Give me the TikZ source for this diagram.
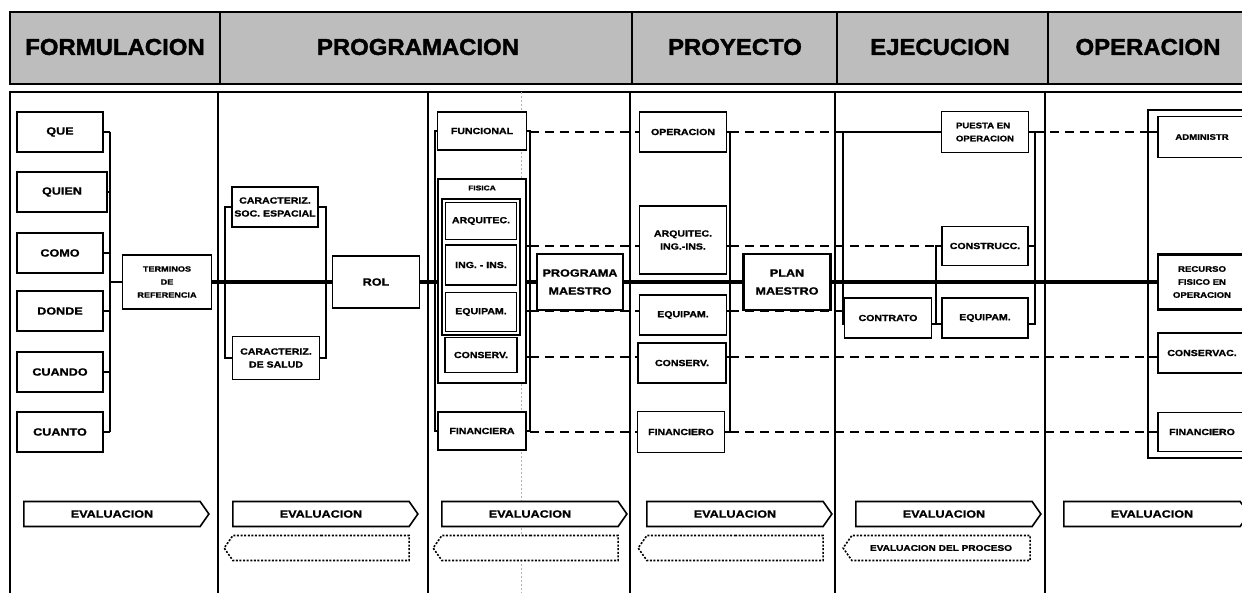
\documentclass[tikz,border=0pt]{standalone}
\usepackage{fontspec}
\setmainfont{Liberation Sans}
\newfontfamily\wide[FakeStretch=1.2,FakeBold=1.3]{Liberation Sans}
\newfontfamily\heavy[FakeStretch=1.04,FakeBold=1.6]{Liberation Sans}
\newcommand\fsz[2]{\wide\bfseries\fontsize{#1}{#2}\selectfont}
\usetikzlibrary{positioning,fit,backgrounds,shapes.symbols}

\begin{document}
\begin{tikzpicture}[x=1pt, y=-1pt,
	bx/.style={draw, line width=1.6pt, fill=white, align=center, inner sep=1pt, minimum width=87, minimum height=40, font=\fsz{8.8}{13}},
	big/.style={bx, line width=2.6pt, minimum height=56, font=\fsz{10.5}{18}},
	ask/.style={bx, minimum width=86, font=\fsz{10.5}{12}},
	tick/.style={line width=1.8pt},
	spine/.style={line width=4.5pt},
	link/.style={line width=1.6pt, dash pattern=on 9pt off 6pt},
	evalf/.style={draw, line width=1.6pt, fill=white, shape=signal, signal to=east, signal pointer angle=110, minimum width=185, minimum height=25, inner sep=0pt, font=\fsz{10.5}{12}},
	evalb/.style={evalf, signal to=west, line width=1.6pt, dash pattern=on 2pt off 1.6pt, font=\fsz{8.4}{10}},
	col/.style={line width=2.2pt},
	head/.style={font=\heavy\bfseries\fontsize{23}{24}\selectfont}]
	\useasboundingbox (0,0) rectangle (1242,593);
	\clip (0,0) rectangle (1242,593);
	% header band
	\fill[black!26] (10,12) rectangle (1260,84);
	\draw[line width=2.6pt] (10,12) rectangle (1260,84);
	\foreach \x in {220,632,837,1048} \draw[col] (\x,12) -- (\x,84);
	\node[head] (hf) at (115,47) {FORMULACION};
	\node[head] (hp) at (418,47) {PROGRAMACION};
	\node[head] (hy) at (735,47) {PROYECTO};
	\node[head] (he) at (940,47) {EJECUCION};
	\node[head] (ho) at (1148,47) {OPERACION};
	% body frame
	\draw[line width=2.4pt] (1260,92) -- (10,92) -- (10,600);
	\foreach \x in {218,428,630,835,1045} \draw[col] (\x,92) -- (\x,600);
	\draw[gray!60, line width=.4pt, dash pattern=on 2pt off 2pt] (521,92) -- (521,600);
	% levels and brackets
	\coordinate (l1) at (0,132);
	\coordinate (l2) at (0,246);
	\coordinate (l3) at (0,311);
	\coordinate (l4) at (0,357);
	\coordinate (l5) at (0,432);
	\coordinate (l6) at (0,324);
	\coordinate (k1) at (110,282);
	\coordinate (k2l) at (225,282);
	\coordinate (k2r) at (326,282);
	\coordinate (k3l) at (435,282);
	\coordinate (k3r) at (530,282);
	\coordinate (k4r) at (730,282);
	\coordinate (k5l) at (843,282);
	\coordinate (k5m) at (936,282);
	\coordinate (k5r) at (1035,282);
	% formulacion
	\node[ask] (que) at (60,132) {QUE};
	\node[ask, minimum width=90] (quien) at (62,192) {QUIEN};
	\node[ask] (como) at (60,253) {COMO};
	\node[ask] (donde) at (60,311) {DONDE};
	\node[ask] (cuando) at (60,372) {CUANDO};
	\node[ask] (cuanto) at (60,432) {CUANTO};
	\node[bx, minimum width=89, minimum height=54, font=\fsz{7.6}{13}] (ter) at (167,282) {TERMINOS\\DE\\REFERENCIA};
	% programacion
	\node[bx, minimum width=86] (soc) at (275,207) {CARACTERIZ.\\SOC. ESPACIAL};
	\node[bx, minimum height=43] (sal) at (276,358) {CARACTERIZ.\\DE SALUD};
	\node[bx, minimum height=52, font=\fsz{10.5}{12}] (rol) at (376,282) {ROL};
	\node[bx, minimum width=89, minimum height=38] (fun) at (482,131) {FUNCIONAL};
	\node[bx, minimum width=88, minimum height=204] (fis) at (482,281) {};
	\node[font=\fsz{7}{7}] (fisl) at (482,188) {FISICA};
	\node[bx, minimum width=71, minimum height=37] (arq) at (481,221) {ARQUITEC.};
	\node[bx, minimum width=71] (ing) at (481,265) {ING. - INS.};
	\node[bx, minimum width=71, minimum height=39] (eq3) at (481,312) {EQUIPAM.};
	\node[draw, line width=2.4pt, inner sep=2.5pt, fit=(arq)(ing)(eq3)] (fisin) {};
	\node[bx, minimum width=72, minimum height=35] (con3) at (481,355) {CONSERV.};
	\node[bx, minimum width=88, minimum height=38] (fin3) at (482,431) {FINANCIERA};
	\node[big, minimum width=86] (prog) at (580,282) {PROGRAMA\\MAESTRO};
	% proyecto
	\node[bx] (op4) at (683,132) {OPERACION};
	\node[bx, minimum height=68] (arq4) at (683,240) {ARQUITEC.\\ING.-INS.};
	\node[bx] (eq4) at (683,315) {EQUIPAM.};
	\node[bx, minimum width=88] (con4) at (682,363) {CONSERV.};
	\node[bx, minimum height=41] (fin4) at (681,432) {FINANCIERO};
	\node[big] (plan) at (787,282) {PLAN\\MAESTRO};
	% ejecucion
	\node[bx, minimum height=41, align=left, font=\fsz{8}{13}] (pue) at (985,132) {PUESTA EN\\OPERACION};
	\node[bx, minimum width=86, minimum height=39] (cons) at (985,246) {CONSTRUCC.};
	\node[bx, minimum width=86] (eq5) at (985,318) {EQUIPAM.};
	\node[bx] (ctr) at (888,318) {CONTRATO};
	% operacion
	\node[draw, line width=1.6pt, minimum width=104, minimum height=348] (cont) at (1200,284) {};
	\node[bx, minimum width=88, minimum height=41, font=\fsz{8}{13}] (adm) at (1202,137) {ADMINISTR};
	\node[big, minimum width=88, minimum height=55, font=\fsz{8}{13}] (rec) at (1202,282) {RECURSO\\FISICO EN\\OPERACION};
	\node[bx, minimum width=88] (cva) at (1202,353) {CONSERVAC.};
	\node[bx, minimum width=88, minimum height=39] (fin6) at (1202,432) {FINANCIERO};
	% evaluacion
	\foreach \n/\x in {e1/112, e2/321, e3/530, e4/735, e5/944, e6/1152}
		\node[evalf] (\n) at (\x,514) {EVALUACION};
	\foreach \n/\x in {d2/321, d3/530, d4/735}
		\node[evalb] (\n) at (\x,548) {};
	\node[evalb, minimum width=187] (d5) at (941,548) {EVALUACION DEL PROCESO};

	\begin{scope}[on background layer]
	% formulacion bracket
	\foreach \n in {que,quien,como,donde,cuando,cuanto}
		\draw[tick] (\n.east) -- (\n.east -| k1);
	\draw[tick] (que.east -| k1) -- (cuanto.east -| k1);
	\draw[tick] (k1) -- (ter.west);
	% main line
	\draw[spine] (ter.east) -- (rol.west) (rol.east) -- (prog.west) (prog.east) -- (plan.west) (plan.east) -- (rec.west);
	% programacion brackets
	\draw[tick] (soc.west) -- (soc.west -| k2l) -- (sal.west -| k2l) -- (sal.west);
	\draw[tick] (soc.east) -- (soc.east -| k2r) -- (sal.east -| k2r) -- (sal.east);
	\draw[tick] (fun.west) -- (fun.west -| k3l) -- (fin3.west -| k3l) -- (fin3.west);
	\draw[tick] (fun.east) -- (fun.east -| k3r) -- (fin3.east -| k3r) -- (fin3.east);
	\foreach \l in {l2,l3,l4} \draw[tick] (fis.east |- \l) -- (k3r |- \l);
	\foreach \l/\t in {l1/op4, l2/arq4, l3/eq4, l4/con4, l5/fin4}
		\draw[link] (k3r |- \l) -- (\t.west |- \l);
	% proyecto bracket
	\draw[tick] (op4.east) -- (op4.east -| k4r) -- (fin4.east -| k4r) -- (fin4.east);
	\foreach \l/\s in {l2/arq4, l3/eq4, l4/con4}
		\draw[tick] (\s.east |- \l) -- (k4r |- \l);
	\draw[link] (k4r |- l1) -- (k5l |- l1);
	\draw[link] (k4r |- l2) -- (k5m |- l2);
	\draw[link] (k4r |- l3) -- (k5l |- l3);
	\draw[link] (k4r |- l4) -- (cont.west |- l4);
	\draw[link] (k4r |- l5) -- (cont.west |- l5);
	% ejecucion brackets
	\draw[tick] (pue.west) -| (k5l |- l6) -- (ctr.west |- l6);
	\draw[tick] (cons.west) -| (k5m |- l6) -- (eq5.west |- l6);
	\draw[tick] (ctr.east |- l6) -- (k5m |- l6);
	\draw[tick] (pue.east) -| (k5r |- l6) -- (eq5.east |- l6);
	\draw[tick] (cons.east) -- (cons.east -| k5r);
	\draw[link] (k5r |- l1) -- (cont.west |- l1);
	% operacion
	\foreach \l/\t in {l1/adm, l4/cva, l5/fin6}
		\draw[tick] (cont.west |- \l) -- (\t.west |- \l);
	\end{scope}
\end{tikzpicture}
\end{document}
